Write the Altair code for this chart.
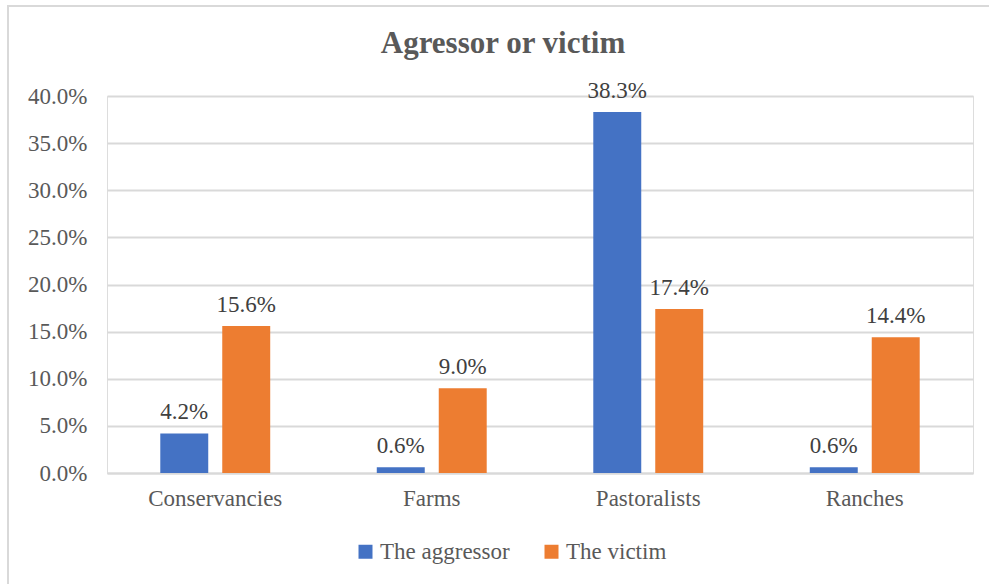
import altair as alt
import pandas as pd

categories = ["Conservancies", "Farms", "Pastoralists", "Ranches"]
series = ["The aggressor", "The victim"]
aggressor = [4.2, 0.6, 38.3, 0.6]
victim = [15.6, 9.0, 17.4, 14.4]
y_ticks = [0, 5, 10, 15, 20, 25, 30, 35, 40]

rows = []
for c, a, v in zip(categories, aggressor, victim):
    rows.append({"cat": c, "series": series[0], "val": a})
    rows.append({"cat": c, "series": series[1], "val": v})
df = pd.DataFrame(rows)
df["label"] = df["val"].map(lambda v: f"{v:.1f}%")

FONT = "'Liberation Serif', 'Times New Roman', 'DejaVu Serif', serif"
FS = 23
W, H = 866, 377

x = alt.X("cat:N", sort=categories, title=None,
          scale=alt.Scale(paddingInner=0, paddingOuter=0),
          axis=alt.Axis(labelAngle=0, labelFont=FONT, labelFontSize=FS,
                        labelColor="#595959", ticks=False, domainColor="#d9d9d9",
                        domainWidth=2, labelPadding=14))
xo = alt.XOffset("series:N", sort=series,
                 scale=alt.Scale(paddingInner=0.226, paddingOuter=0.86))
y = alt.Y("val:Q", title=None,
          scale=alt.Scale(domain=[0, 40]),
          axis=alt.Axis(values=y_ticks, labelExpr="format(datum.value, '.1f') + '%'",
                        labelFont=FONT, labelFontSize=FS, labelColor="#595959",
                        ticks=False, domain=False, gridColor="#d9d9d9",
                        gridWidth=2, labelPadding=20))

color = alt.Color("series:N", sort=series,
                  scale=alt.Scale(domain=series, range=["#4472C4", "#ED7D31"]),
                  legend=alt.Legend(title=None, orient="none", direction="horizontal",
                                    legendX=247, legendY=444,
                                    symbolType="square", symbolSize=196,
                                    symbolStrokeWidth=0,
                                    labelFont=FONT, labelFontSize=FS,
                                    labelColor="#595959", labelOffset=3,
                                    columnPadding=30))

base = alt.Chart(df)
bars = base.mark_bar().encode(x=x, xOffset=xo, y=y, color=color)
labels = base.mark_text(baseline="bottom", dy=-9, font=FONT, fontSize=FS,
                        color="#404040").encode(x=x, xOffset=xo, y=y, text="label:N")

border = alt.Chart(pd.DataFrame({"a": [0]})).mark_rect(
    fill=None, stroke="#d9d9d9", strokeWidth=2
).encode(x=alt.value(-99), x2=alt.value(900), y=alt.value(-90), y2=alt.value(505))

chart = alt.layer(border, bars, labels).properties(
    width=W, height=H,
    title=alt.TitleParams("Agressor or victim", font=FONT, fontSize=31,
                          fontWeight="bold", color="#595959", anchor="middle",
                          dx=-37, offset=-55),
    autosize=alt.AutoSizeParams(type="none"),
    padding={"left": 107, "top": 96, "right": 16, "bottom": 111},
).configure_view(stroke=None).configure(background="white")

chart.save("out.html", embed_options={"renderer": "svg", "actions": False})
